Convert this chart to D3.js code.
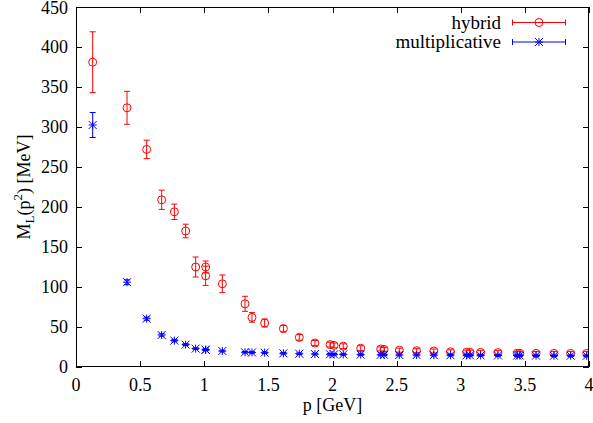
<!DOCTYPE html>
<html><head><meta charset="utf-8">
<script src="https://cdn.jsdelivr.net/npm/d3@7"></script>
<style>body{margin:0;background:#fff}svg{display:block}</style>
</head><body><svg id="c" width="593" height="423" font-family="'Liberation Serif','DejaVu Serif',serif" font-size="18px"></svg>
<script>
const momenta = [0.130,0.398,0.551,0.668,0.767,0.855,0.933,1.011,1.011,1.141,1.318,1.372,1.471,1.617,1.741,1.863,1.981,2.012,2.084,2.220,2.376,2.402,2.521,2.656,2.790,2.920,3.046,3.072,3.155,3.290,3.440,3.460,3.587,3.727,3.857,3.982];
const hybridValues = [381,324,272,209,194,170,125,125,114,104,79,62,55,48,37,30,28,27,26,23.5,22.5,22,21,20.4,20,19,18.5,18.5,18.3,18,17.2,17.2,17,17,17,17];
const hybridErrors = [38,20.6,11.5,12,9.6,8.5,12.5,7.5,12,11,9.4,6,5,4,3.5,3,3,3,3,3,2.5,2.5,2.5,2.5,2.5,2.5,2.5,2.5,2.5,2.5,2.5,2.5,2.5,2.5,2.5,2.5];
const multValues = [302.5,106,60.4,40,33,28,23,21.6,21.6,20,18.4,18.2,17.9,17.1,16.6,16.2,15.9,15.8,15.7,15.5,15.2,15.2,15,14.9,14.8,14.7,14.6,14.6,14.5,14.4,14.3,14.3,14.2,14.1,14.1,14];
const multErrors = [15.6,3,2,1.5,1.5,1.2,1,1,1,1,1,1,1,1,1,1,1,1,1,1,1,1,1,1,1,1,1,1,1,1,1,1,1,1,1,1];
const xTicks = [0,0.5,1,1.5,2,2.5,3,3.5,4];
const yTicks = [0,50,100,150,200,250,300,350,400,450];
const seriesNames = ["hybrid","multiplicative"];
const seriesColors = ["#ff0000","#0000ff"];

const svg = d3.select("#c");
const L=76,R=589,T=7,B=367;
const x = d3.scaleLinear().domain([0,4]).range([L,R]);
const y = d3.scaleLinear().domain([0,450]).range([B,T]);
const tl = 6;

const g = svg.append("g").attr("stroke","#000").attr("stroke-width",1);
xTicks.forEach(v=>{
  const px = Math.round(x(v))+0.5;
  g.append("line").attr("x1",px).attr("x2",px).attr("y1",B).attr("y2",B-tl);
  g.append("line").attr("x1",px).attr("x2",px).attr("y1",T).attr("y2",T+tl);
});
yTicks.forEach(v=>{
  const py = Math.round(y(v))+0.5;
  g.append("line").attr("x1",L).attr("x2",L+tl).attr("y1",py).attr("y2",py);
  g.append("line").attr("x1",R).attr("x2",R-tl).attr("y1",py).attr("y2",py);
});
xTicks.forEach(v=>{
  svg.append("text").attr("x",x(v)).attr("y",391).attr("text-anchor","middle").text(d3.format("")(v));
});
yTicks.forEach(v=>{
  svg.append("text").attr("x",68).attr("y",Math.max(y(v)+6,14)).attr("text-anchor","end").text(v);
});
svg.append("text").attr("x",(L+R)/2).attr("y",411).attr("text-anchor","middle").text("p [GeV]");
const yl = svg.append("text").attr("transform","translate(30,187) rotate(-90)").attr("text-anchor","middle");
yl.append("tspan").text("M");
yl.append("tspan").attr("font-size","13px").attr("dy",4).text("L");
yl.append("tspan").attr("dy",-4).text("(p");
yl.append("tspan").attr("font-size","13px").attr("dy",-8).text("2");
yl.append("tspan").attr("dy",8).text(") [MeV]");

function drawErr(gg, xs, vs, es, color){
  xs.forEach((xv,i)=>{
    const cx=x(xv), y1=y(vs[i]+es[i]), y2=y(vs[i]-es[i]);
    gg.append("line").attr("x1",cx).attr("x2",cx).attr("y1",y1).attr("y2",y2).attr("stroke",color);
    gg.append("line").attr("x1",cx-3).attr("x2",cx+3).attr("y1",y1).attr("y2",y1).attr("stroke",color);
    gg.append("line").attr("x1",cx-3).attr("x2",cx+3).attr("y1",y2).attr("y2",y2).attr("stroke",color);
  });
}
function circle(gg,cx,cy,color){
  gg.append("circle").attr("cx",cx).attr("cy",cy).attr("r",4).attr("fill","none").attr("stroke",color);
}
function star(gg,cx,cy,color){
  const s=4;
  gg.append("path").attr("d",`M${cx-s},${cy}H${cx+s}M${cx},${cy-s}V${cy+s}M${cx-s},${cy-s}L${cx+s},${cy+s}M${cx-s},${cy+s}L${cx+s},${cy-s}`).attr("stroke",color).attr("fill","none");
}
svg.append("clipPath").attr("id","pc").append("rect").attr("x",L).attr("y",T).attr("width",R-L).attr("height",B-T);
const plot = svg.append("g").attr("clip-path","url(#pc)");
const gh = plot.append("g"), gm = plot.append("g");
drawErr(gh, momenta, hybridValues, hybridErrors, seriesColors[0]);
momenta.forEach((xv,i)=>circle(gh,x(xv),y(hybridValues[i]),seriesColors[0]));
drawErr(gm, momenta, multValues, multErrors, seriesColors[1]);
momenta.forEach((xv,i)=>star(gm,x(xv),y(multValues[i]),seriesColors[1]));

const ly=[22.5,42];
seriesNames.forEach((n,i)=>{
  svg.append("text").attr("x",501).attr("y",ly[i]+6).attr("text-anchor","end").attr("font-size","19px").text(n);
  const c=seriesColors[i];
  svg.append("line").attr("x1",512).attr("x2",566).attr("y1",ly[i]).attr("y2",ly[i]).attr("stroke",c);
  svg.append("line").attr("x1",512.5).attr("x2",512.5).attr("y1",ly[i]-3).attr("y2",ly[i]+3).attr("stroke",c);
  svg.append("line").attr("x1",565.5).attr("x2",565.5).attr("y1",ly[i]-3).attr("y2",ly[i]+3).attr("stroke",c);
  if(i===0) circle(svg,539,ly[i],c); else star(svg,539,ly[i],c);
});
svg.append("rect").attr("x",L+0.5).attr("y",T+0.5).attr("width",R-L-1).attr("height",B-T-1).attr("fill","none").attr("stroke","#000");
</script></body></html>
